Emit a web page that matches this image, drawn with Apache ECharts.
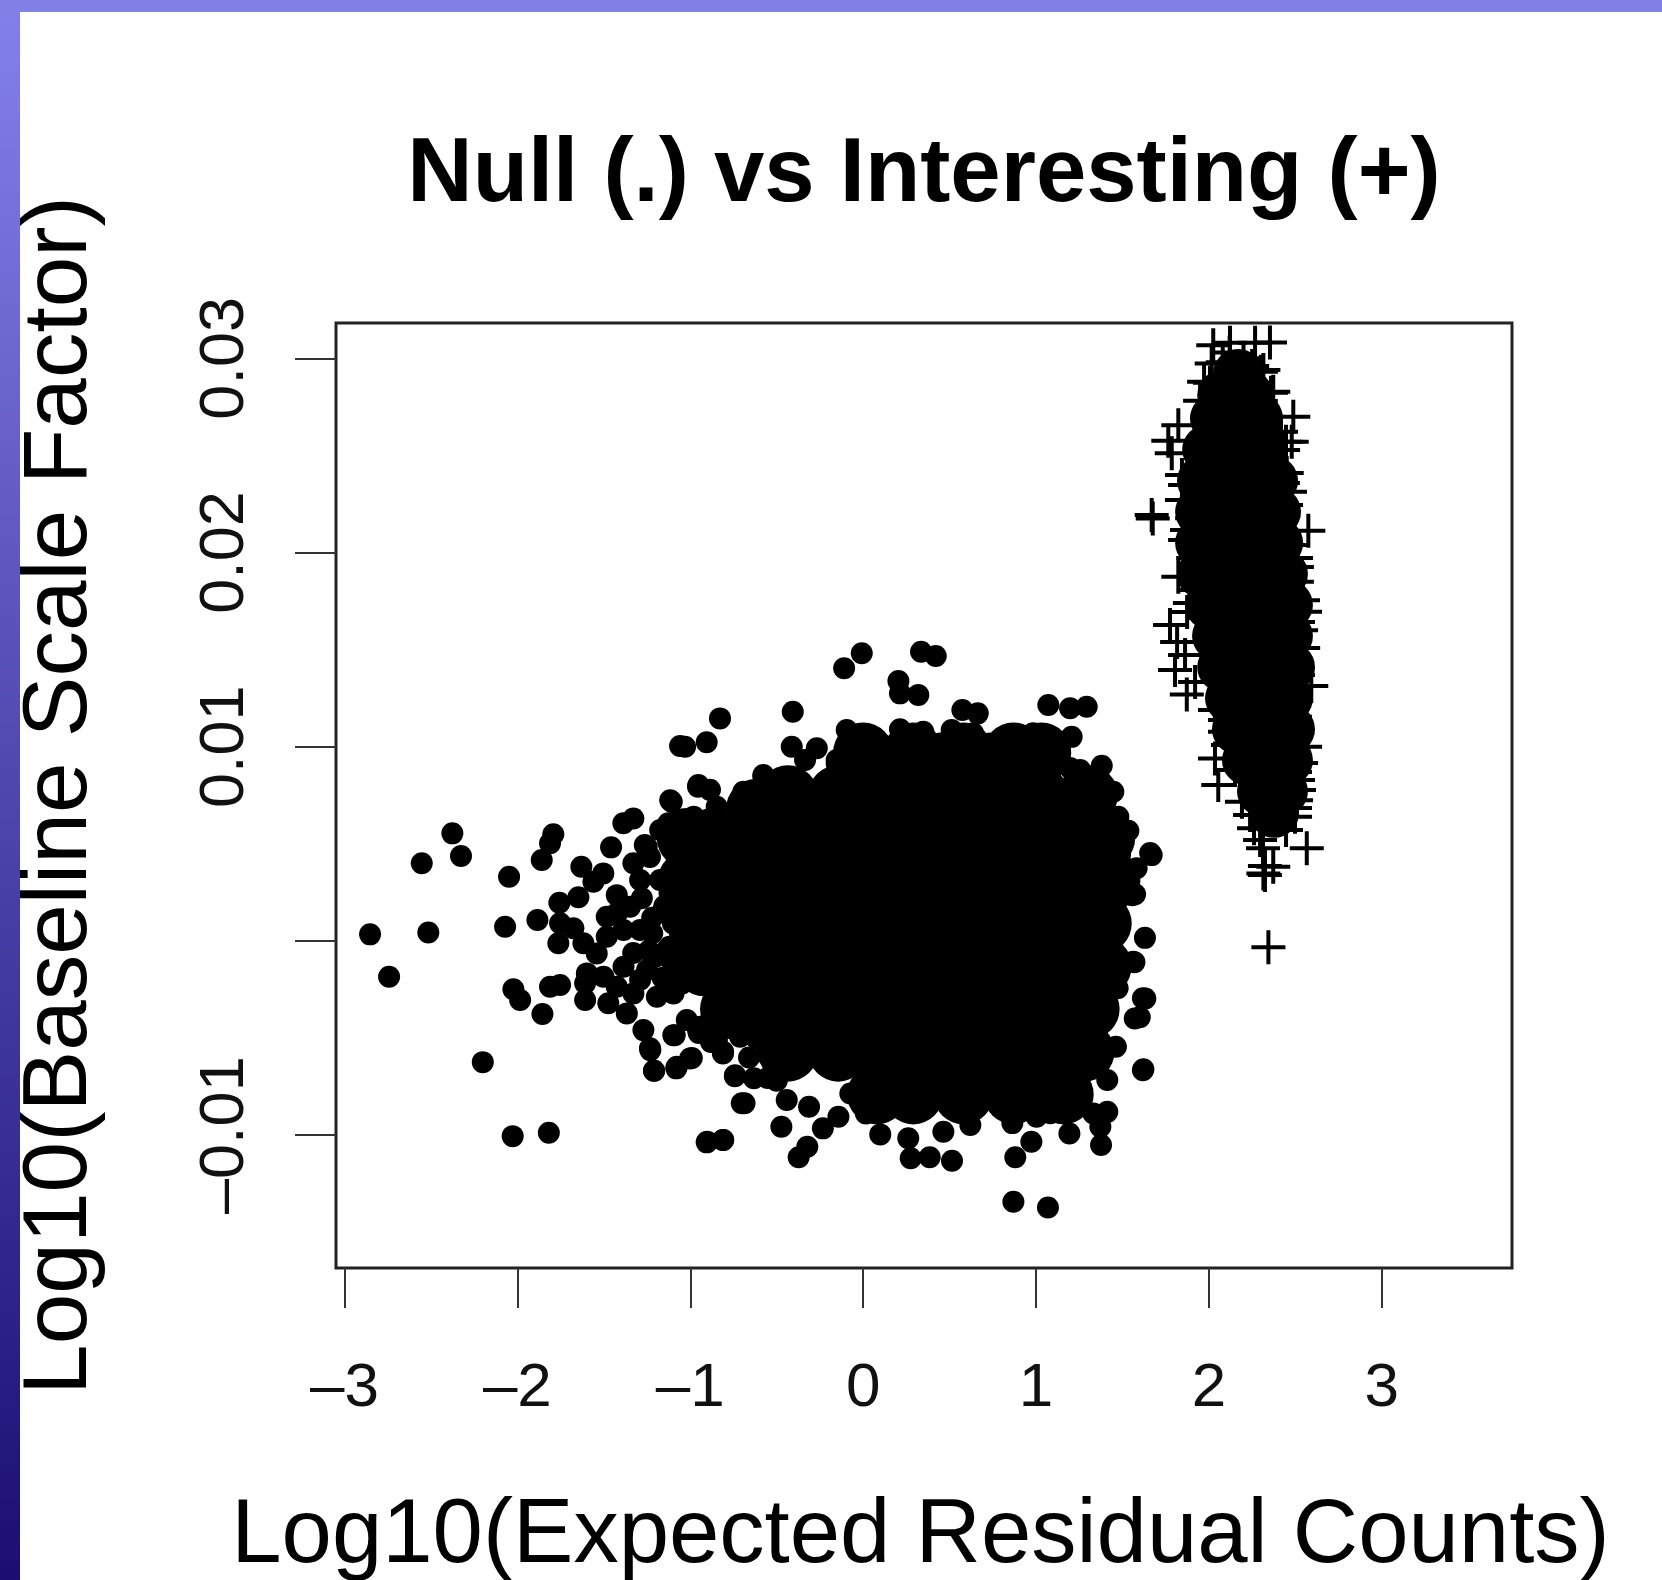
<!DOCTYPE html>
<html>
<head>
<meta charset="utf-8">
<title>Null vs Interesting</title>
<script src="https://cdn.jsdelivr.net/npm/echarts@6/dist/echarts.min.js"></script>
<style>
html, body { margin: 0; padding: 0; background: #fff; }
#chart { width: 1662px; height: 1580px; }
</style>
</head>
<body>
<div id="chart"></div>
<script>
const xTicks = [-3, -2, -1, 0, 1, 2, 3]
const xTickLabels = ['–3', '–2', '–1', '0', '1', '2', '3']
const yTicks = [0.03, 0.02, 0.01, 0, -0.01]
// R drops the 0 label because it would overlap, the tick stays
const yLabelTicks = [0.03, 0.02, 0.01, -0.01]
const yTickLabels = ['0.03', '0.02', '0.01', '–0.01']

// single dots readable around the edge of the null cloud
const nullPoints = [
  [-2.376,.00554],[-2.553,.0040],[-2.326,.00437],[-2.048,.00331],[-1.792,.00549],[-1.811,.00503],[-1.859,.00417],
  [-1.458,.00482],[-1.387,.00606],[-1.329,.00631],[-1.63,.00382],[-1.503,.00348],[-1.56,.00305],[-1.647,.00225],
  [-1.757,.00197],[-1.884,.00108],[-2.071,.00073],[-2.515,.00044],[-2.852,.00034],[-2.742,-.00184],[-1.753,.00091],
  [-1.676,.00065],[-1.763,-.00012],[-1.618,-.00012],[-1.541,-.00064],[-1.483,.00125],[-1.483,.00022],[-1.425,.00236],
  [-1.263,.00494],[-1.116,.00725],[-.955,.00794],[-.886,.00778],[-2.023,-.00249],[-1.984,-.00304],[-1.855,-.00376],
  [-1.811,-.00236],[-1.753,-.00227],[-1.608,-.00218],[-1.608,-.00304],[-1.474,-.00321],[-1.367,-.00373],[-1.271,-.00459],
  [-1.233,-.00553],[-1.209,-.00668],[-1.078,-.00648],[-1.001,-.00605],[-1.098,-.00485],[-.955,-.00459],[-.81,-.00571],
  [-.741,-.00691],[-.702,-.00836],[-2.2,-.00624],[-2.027,-.01005],[-1.818,-.00988],[-.905,-.01037],[-.809,-.01025],
  [-1.29,-.002],[-1.29,.00056],[-1.33,-.00062],[-1.175,.00314],[-1.233,.00432],[-1.1,.00607],
  [-.008,.01481],[-.11,.01404],[.335,.01489],[.42,.01467],[.204,.01338],[.213,.01275],[.319,.01266],[.574,.01189],
  [.663,.01172],[1.071,.01215],[1.197,.01198],[1.293,.01206],[1.206,.01051],[1.38,.00902],[1.447,.00768],[1.476,.0064],
  [1.534,.00567],[1.669,.00442],[1.582,.00374],[1.573,.00241],[1.486,.00442],[-.407,.0118],[-.828,.01146],[-.905,.01023],
  [-1.059,.01004],[-1.03,.01],[-.413,.01],[-.268,.00992],[-.336,.00932],[-.153,.00932],[-.095,.01086],[0,.01051],
  [.213,.0109],[.348,.01077],[.512,.01086],[.636,.0107],[.838,.0106],[.983,.0107],[1.062,.01051],[1.197,.0089],
  [1.301,.00846],[-.953,.00803],[-1.107,.00717],[-1.127,.00606],[-1.252,.00485],[-.693,.00768],[-.577,.00854],
  [-.452,.00829],[-.847,.00623],
  [.869,-.01343],[1.069,-.01372],[.88,-.01114],[.973,-.01034],[1.193,-.00991],[1.376,-.01051],[1.372,-.00957],
  [1.412,-.0088],[1.332,-.00888],[1.621,-.00661],[1.632,-.00296],[1.571,-.00399],[1.561,-.00107],[1.462,-.00545],
  [1.412,-.00716],[1.472,-.00244],[.514,-.01132],[.385,-.01114],[.275,-.01119],[.261,-.01016],[.464,-.00982],[.62,-.00948],
  [.099,-.00996],[-.373,-.01114],[-.323,-.0106],[-.473,-.00957],[-.233,-.00965],[-.143,-.00905],[-.442,-.00819],
  [-.313,-.00854],[.016,-.00888],[-.074,-.00785],[-.686,-.00836],[-.742,-.00696],[-.632,-.00707],[-.552,-.00706],
  [-.811,-.00579],[-1.21,-.00668],[-1.081,-.00656],[-.991,-.00603],[-.902,-.01034],[-.811,-.01025],[-1.09,-.00485],
  [-.951,-.00474],[-1.231,-.00562],[1.083,-.00887],[1.202,-.00819],[.863,-.00938],[1.003,-.00905],
  [1.66,.00453],[1.63,.00016],[1.618,-.00295],[1.618,-.00666],[1.569,-.00109],[1.6,-.00393],[1.556,.00235],[1.52,.00562],
  // denser band on the left and top of the black mass
  [-1.425,.00142],[-1.348,.00176],[-1.386,.00056],[-1.386,-.00133],[-1.502,-.00184],[-1.598,-.00167],[-1.425,-.00236],
  [-1.329,-.0027],[-1.097,-.0027],[-1.193,-.00287],[-1.02,-.00407],[-.943,-.00442],[-.846,-.0051],[-.808,-.00373],
  [-.712,-.00493],[-1.29,.00314],[-1.329,.004],[-1.174,.00571],[-1.1,.0009],[-1.12,-.0003],[-1.1,-.0013],[-1.15,.0018],
  [-1.12,.0025],[-1.05,-.0022],[-1.0,.0003],[-1.22,.0012],[-1.2,-.0008],[-1.25,-.0015],[-1.16,-.0019],[-1.28,.0022],
  [-.98,.00639],[-.847,.00691],[-.712,.00725],[-.577,.00845],[-.442,.00845],[-.153,.00914],[-.037,.01017],[.098,.01017],
  [.445,.01017],[.734,.01017],[.927,.01051],[1.12,.00965],[1.255,.0088],[1.399,.00759],[1.448,.00622],[1.448,.00485],
  [-.81,-.0045],[-.7,-.0042],[-.62,-.005],[-.66,-.006],[-.56,-.0058],[-.9,-.0043],[-.88,-.0052],[-.5,-.0072],
  [-1.16,.0015],[-1.06,.0015],[-1.22,.0004],[-1.06,.0004],[-1.14,-.0005],[-1.06,-.0007],[-1.24,-.0005],[-1.13,-.0023],[-1.05,-.0012]
]

// the solid middle of the null cloud, individual points cannot be told apart there
const nullCorePoints = [
  [0,.0097],[.29,.0097],[.58,.0097],[.87,.0097],[1.03,.0097],
  [-.62,.0068],[-.435,.0075],[-.145,.0075],[.145,.0075],[.435,.0075],[.725,.0075],[1.015,.0075],[1.3,.0075],
  [-1.02,.0053],[-.87,.0053],[-.58,.0053],[-.29,.0053],[0,.0053],[.29,.0053],[.58,.0053],[.87,.0053],[1.16,.0053],[1.4,.0053],
  [-1.015,.0031],[-.725,.0031],[-.435,.0031],[-.145,.0031],[.145,.0031],[.435,.0031],[.725,.0031],[1.015,.0031],[1.305,.0031],[1.43,.0031],
  [-.92,.0009],[-.87,.0009],[-.58,.0009],[-.29,.0009],[0,.0009],[.29,.0009],[.58,.0009],[.87,.0009],[1.16,.0009],[1.38,.0009],
  [-.92,-.0013],[-.725,-.0013],[-.435,-.0013],[-.145,-.0013],[.145,-.0013],[.435,-.0013],[.725,-.0013],[1.015,-.0013],[1.305,-.0013],[1.38,-.0013],
  [-.77,-.0035],[-.58,-.0035],[-.29,-.0035],[0,-.0035],[.29,-.0035],[.58,-.0035],[.87,-.0035],[1.16,-.0035],[1.31,-.0035],
  [-.435,-.0057],[-.145,-.0057],[.145,-.0057],[.435,-.0057],[.725,-.0057],[1.015,-.0057],[1.28,-.0057],
  [.08,-.0079],[.29,-.0079],[.58,-.0079],[.87,-.0079],[1.16,-.0079]
]

// single + marks readable around the edge of the interesting cloud
const interestingPoints = [
  [1.669,.02193],[1.675,.02175],[2.575,.02112],[2.488,.02699],[1.823,.02656],[1.765,.02576],[1.785,.02511],[2.025,.03068],
  [2.353,.03082],[2.016,.02974],[2.006,.02874],[1.949,.02782],[2.122,.0308],[2.267,.0308],[2.315,.0294],[2.372,.02828],
  [2.479,.0257],[2.45,.02409],[1.823,.01875],[1.844,.02399],[1.844,.0227],[1.862,.02064],[1.89,.0174],
  [1.775,.01627],[1.804,.01395],[1.872,.01269],[2.035,.0094],[2.054,.00803],[2.566,.00477],[2.315,.00348],[2.372,.00382],
  [2.344,-.00033],[2.592,.01313],[2.556,.01695],[2.533,.016],[2.545,.01508],[2.504,.01431],[2.498,.01154],[2.504,.0106],
  [2.556,.01],[2.533,.00916],[2.515,.00829],[2.504,.00725],[2.498,.0064],[2.446,.00571],[2.093,.01077],[2.035,.01189],
  [2.261,.00581],[2.191,.00717],[2.313,.00478],[2.324,.00386],[2.324,.00339],
  [2.504,.01972],[2.509,.01926],[2.509,.0185],[2.544,.01755],[2.428,.02358],[2.469,.02313],[2.446,.0257],[2.417,.02622],
  [2.359,.02823],[2.301,.02931],[1.972,.02879],[1.862,.02348],[1.903,.02176],[1.873,.02116],
  [2.429,.02528],[2.446,.02245],[2.429,.02193],[2.486,.02039],[2.515,.01642],[2.498,.01549],[2.515,.01369],[2.498,.0124],
  [2.486,.01112],[2.498,.0087],[2.521,.00777],[2.498,.00684],[1.909,.01972],[1.92,.01807],[1.874,.01694],[1.816,.01539],
  [1.862,.01472],[1.92,.01333],[2.093,.01138],[2.11,.01009],[2.151,.0088],[2.238,.00648],[2.296,.0052],
  [2.08,.0298],[2.2,.03],[2.25,.0296],[2.12,.0303],[2.06,.0285],[2.3,.0278]
]

// the solid middle of the interesting cloud
const interestingCorePoints = [
  [2.168,.0292],[2.077,.0281],[2.228,.0281],[2.035,.0269],[2.157,.0269],[2.284,.0269],
  [1.99,.0253],[2.208,.0253],[2.313,.0253],[1.96,.0237],[2.168,.0237],[2.371,.0237],
  [1.949,.0221],[2.168,.0221],[2.388,.0221],[1.949,.0205],[2.18,.0205],[2.4,.0205],
  [1.96,.0189],[2.191,.0189],[2.428,.0189],[2.006,.0173],[2.237,.0173],[2.457,.0173],
  [2.047,.0157],[2.249,.0157],[2.457,.0157],[2.077,.0141],[2.272,.0141],[2.469,.0141],
  [2.122,.0125],[2.289,.0125],[2.457,.0125],[2.162,.0109],[2.318,.0109],[2.469,.0109],
  [2.22,.0093],[2.34,.0093],[2.457,.0093],[2.307,.0077],[2.428,.0077],[2.377,.0066]
]

const fontFamily = '"Liberation Sans", Arial, sans-serif'
const plusPath = 'path://M15 0h4v15h15v4h-15v15h-4v-15h-15v-4h15z'

let chart = echarts.init(document.getElementById('chart'))

function dotSeries(name, data, size, symbol) {
    return {
        name: name,
        type: 'scatter',
        data: data,
        symbol: symbol || 'circle',
        symbolSize: size,
        silent: true,
        itemStyle: { color: '#000', opacity: 1 }
    }
}

let option = {
    animation: false,
    backgroundColor: '#fff',
    title: {
        text: 'Null (.) vs Interesting (+)',
        left: 919,
        top: 126,
        textAlign: 'center',
        textStyle: { fontFamily: fontFamily, fontSize: 90.5, fontWeight: 'bold', color: '#000' }
    },
    grid: {
        left: 336,
        top: 323,
        width: 1176,
        height: 945,
        outerBoundsMode: 'none',
        show: true,
        borderColor: '#222',
        borderWidth: 3
    },
    xAxis: {
        type: 'value',
        min: -3.049,
        max: 3.753,
        name: 'Log10(Expected Residual Counts)',
        nameLocation: 'middle',
        nameGap: 224,
        nameTextStyle: { fontFamily: fontFamily, fontSize: 90.5, color: '#000', padding: [0, 7, 0, 0] },
        splitLine: { show: false },
        axisLine: { show: false, onZero: false },
        axisTick: { length: 40, customValues: xTicks, lineStyle: { color: '#333', width: 2 } },
        axisLabel: {
            customValues: xTicks,
            margin: 90,
            fontFamily: fontFamily,
            fontSize: 62,
            color: '#111',
            formatter: (value) => xTickLabels[xTicks.indexOf(value)]
        }
    },
    yAxis: {
        type: 'value',
        min: -0.01684,
        max: 0.03182,
        name: 'Log10(Baseline Scale Factor)',
        nameLocation: 'middle',
        nameRotate: 90,
        nameGap: 230,
        nameTextStyle: { fontFamily: fontFamily, fontSize: 91, color: '#000' },
        splitLine: { show: false },
        axisLine: { show: false, onZero: false },
        axisTick: { length: 41, customValues: yTicks, lineStyle: { color: '#333', width: 2 } },
        axisLabel: {
            customValues: yLabelTicks,
            rotate: 90,
            margin: 79,
            fontFamily: fontFamily,
            fontSize: 63,
            color: '#111',
            formatter: (value) => yTickLabels[yLabelTicks.indexOf(value)]
        }
    },
    graphic: [
        {
            type: 'rect',
            z: 100,
            shape: { x: 0, y: 0, width: 20, height: 1580 },
            style: {
                fill: new echarts.graphic.LinearGradient(0, 0, 0, 1, [
                    { offset: 0, color: '#8480ea' },
                    { offset: 1, color: '#1a0e72' }
                ])
            }
        },
        {
            type: 'rect',
            z: 100,
            shape: { x: 0, y: 0, width: 1662, height: 12 },
            style: { fill: '#8080e6' }
        }
    ],
    series: [
        dotSeries('Null core', nullCorePoints, 60),
        dotSeries('Null', nullPoints, 22),
        dotSeries('Interesting core', interestingCorePoints, 50),
        dotSeries('Interesting', interestingPoints, 34, plusPath)
    ]
}
chart.setOption(option)
</script>
</body>
</html>
